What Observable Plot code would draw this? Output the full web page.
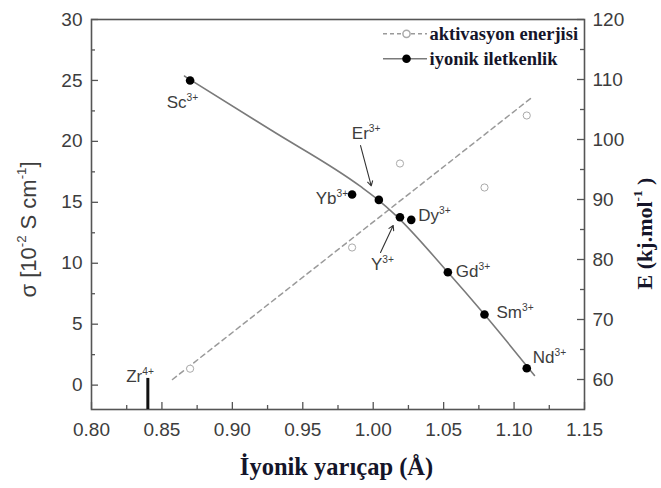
<!DOCTYPE html>
<html><head><meta charset="utf-8">
<script src="https://cdn.jsdelivr.net/npm/d3@7"></script>
<script src="https://cdn.jsdelivr.net/npm/@observablehq/plot@0.6"></script>
<style>body{margin:0;background:#fff}#chart{width:661px;height:488px;overflow:hidden}</style>
</head><body><div id="chart"></div>
<script>
// ---- data ----
const ions = ["Sc", "Yb", "Er", "Y", "Dy", "Gd", "Sm", "Nd"];
const ionCharge = ["3+", "3+", "3+", "3+", "3+", "3+", "3+", "3+"];
const ionRadius = [0.870, 0.985, 1.004, 1.019, 1.027, 1.053, 1.079, 1.109];
const conductivity = [25.0, 15.64, 15.20, 13.78, 13.56, 9.26, 5.79, 1.39];
const energyRadius = [0.870, 0.985, 1.019, 1.079, 1.109];
const activationEnergy = [61.8, 82.0, 96.0, 92.0, 104.0];
const condFitRadius = [0.866, 0.9271, 0.991, 1.0035, 1.0158, 1.053, 1.079, 1.1145];
const condFitValue = [25.36, 20.95, 16.3, 15.2, 13.95, 9.26, 5.79, 0.79];
const energyFitRadius = [0.8575, 1.1129];
const energyFitValue = [60.0, 107.05];
const zrRadius = [0.84];
const zrTop = [0.55];
const xTicks = [0.80, 0.85, 0.90, 0.95, 1.00, 1.05, 1.10, 1.15];
const xMinorTicks = [0.825, 0.875, 0.925, 0.975, 1.025, 1.075, 1.125];
const sigmaTicks = [0, 5, 10, 15, 20, 25, 30];
const sigmaMinorTicks = [2.5, 7.5, 12.5, 17.5, 22.5, 27.5];
const energyTicks = [60, 70, 80, 90, 100, 110, 120];
const energyMinorTicks = [65, 75, 85, 95, 105, 115];
const legendLabels = ["aktivasyon enerjisi", "iyonik iletkenlik"];
// annotation arrows (data units): Er, Y
const arrowFromX = [0.991, 1.0052], arrowFromY = [19.66, 10.88];
const arrowToX = [0.9986, 1.0142], arrowToY = [16.35, 13.10];

// ---- layout ----
const W = 661, H = 488, ML = 91, MR = 77, MT = 19, MB = 79;
const xDomain = [0.8, 1.15], sDomain = [-2, 30], eDomain = [55, 120];
const pxX = (W - ML - MR) / (xDomain[1] - xDomain[0]);
const pxY = (H - MT - MB) / (sDomain[1] - sDomain[0]);
const eToS = e => sDomain[0] + (e - eDomain[0]) * (sDomain[1] - sDomain[0]) / (eDomain[1] - eDomain[0]);
const sToE = s => eDomain[0] + (s - sDomain[0]) * (eDomain[1] - eDomain[0]) / (sDomain[1] - sDomain[0]);
const atX = px => xDomain[0] + (px - ML) / pxX;           // pixel -> x (layout only)
const atY = py => sDomain[1] - (py - MT) / pxY;           // pixel -> sigma (layout only)
// label offsets in pixels relative to the point
const labelLayout = {
  Sc: {anchor: "end", dx: 8, dy: 22},
  Yb: {anchor: "end", dx: -4, dy: 4},
  Er: {anchor: "start", dx: -27, dy: -66},
  Y:  {anchor: "start", dx: -29, dy: 47},
  Dy: {anchor: "start", dx: 7, dy: -4},
  Gd: {anchor: "start", dx: 8, dy: -1},
  Sm: {anchor: "start", dx: 12, dy: -2},
  Nd: {anchor: "start", dx: 6, dy: -11}
};

const points = ions.map((ion, i) => ({ion, x: ionRadius[i], s: conductivity[i]}));
const labels = ions.map((ion, i) => {
  const L = labelLayout[ion];
  return {anchor: L.anchor, text: `${ion}^{${ionCharge[i]}}`,
          x: ionRadius[i] + L.dx / pxX, s: conductivity[i] - L.dy / pxY};
});
const ePoints = energyRadius.map((x, i) => ({x, s: eToS(activationEnergy[i])}));
const condFit = condFitRadius.map((x, i) => ({x, s: condFitValue[i]}));
const energyFit = energyFitRadius.map((x, i) => ({x, s: eToS(energyFitValue[i])}));
const arrows = arrowFromX.map((x, i) => ({x1: x, y1: arrowFromY[i], x2: arrowToX[i], y2: arrowToY[i]}));

const axisColor = "#555", textColor = "#3d3d3d", serifColor = "#15152a";
const tickLen = 7, minorLen = 4;
const serif = "'Liberation Serif','Times New Roman',serif";
const sans = "'Liberation Sans',Arial,Helvetica,sans-serif";

const legendY = [atY(33.3), atY(58.3)];
const legendLine = [atX(383), atX(427)];
const legendMark = atX(406);
const legendText = atX(429);

const titles = [
  {text: "σ [10^{-2} S cm^{-1}]", x: atX(28), y: atY(229), rotate: -90, serif: false},
  {text: "E (kj.mol^{-1} )", x: atX(644), y: atY(233), rotate: -90, serif: true},
  {text: "İyonik yarıçap (Å)", x: atX(336), y: atY(467), rotate: 0, serif: true}
];

const chart = Plot.plot({
  width: W, height: H,
  marginLeft: ML, marginRight: MR, marginTop: MT, marginBottom: MB,
  x: {domain: xDomain},
  y: {domain: sDomain},
  style: {fontFamily: sans, fontSize: "19px", color: textColor, background: "white", overflow: "visible"},
  marks: [
    // ticks (inward)
    Plot.ruleY(sigmaTicks, {y: d => d, x1: () => xDomain[0], x2: () => xDomain[0] + tickLen / pxX, stroke: axisColor, strokeWidth: 1.3}),
    Plot.ruleY(sigmaMinorTicks, {y: d => d, x1: () => xDomain[0], x2: () => xDomain[0] + minorLen / pxX, stroke: axisColor, strokeWidth: 1.3}),
    Plot.ruleY(energyTicks, {y: d => eToS(d), x1: () => xDomain[1] - tickLen / pxX, x2: () => xDomain[1], stroke: axisColor, strokeWidth: 1.3}),
    Plot.ruleY(energyMinorTicks, {y: d => eToS(d), x1: () => xDomain[1] - minorLen / pxX, x2: () => xDomain[1], stroke: axisColor, strokeWidth: 1.3}),
    Plot.ruleX(xTicks, {x: d => d, y1: () => sDomain[0], y2: () => sDomain[0] + tickLen / pxY, stroke: axisColor, strokeWidth: 1.3}),
    Plot.ruleX(xMinorTicks, {x: d => d, y1: () => sDomain[0], y2: () => sDomain[0] + minorLen / pxY, stroke: axisColor, strokeWidth: 1.3}),
    Plot.frame({stroke: axisColor, strokeWidth: 1.6}),
    Plot.axisX({ticks: xTicks, tickSize: 0, tickPadding: 13, tickFormat: d3.format(".2f"), label: null, fill: textColor}),
    Plot.axisY({anchor: "left", ticks: sigmaTicks, tickSize: 0, tickPadding: 9, label: null, fill: textColor}),
    Plot.axisY({anchor: "right", ticks: energyTicks.map(eToS), tickSize: 0, tickPadding: 8,
                tickFormat: s => String(Math.round(sToE(s))), label: null, fill: textColor}),
    // fits
    Plot.line(energyFit, {x: "x", y: "s", stroke: "#9a9a9a", strokeWidth: 1.5, strokeDasharray: "5,4"}),
    Plot.line(condFit, {x: "x", y: "s", curve: "monotone-x", stroke: "#7a7a7a", strokeWidth: 1.6}),
    // points
    Plot.dot(ePoints, {x: "x", y: "s", r: 3.6, stroke: "#aaaaaa", strokeWidth: 1, fill: "white"}),
    Plot.dot(points, {x: "x", y: "s", r: 4.3, fill: "#000", stroke: null}),
    // Zr bar
    Plot.ruleX(zrRadius, {x: d => d, y1: () => sDomain[0], y2: (d, i) => zrTop[i], stroke: "#111", strokeWidth: 3}),
    Plot.text(zrRadius, {x: d => d, y: (d, i) => zrTop[i], text: () => "Zr^{4+}", textAnchor: "end", dx: 6, dy: -2, fontSize: 17, fill: textColor}),
    // arrows
    Plot.arrow(arrows, {x1: "x1", y1: "y1", x2: "x2", y2: "y2", stroke: "#333", strokeWidth: 1.1, headLength: 7}),
    // ion labels
    Plot.text(labels.filter(d => d.anchor === "start"), {x: "x", y: "s", text: "text", textAnchor: "start", fontSize: 17, fill: textColor}),
    Plot.text(labels.filter(d => d.anchor === "end"), {x: "x", y: "s", text: "text", textAnchor: "end", fontSize: 17, fill: textColor}),
    // legend
    Plot.ruleY([legendY[0]], {y: d => d, x1: () => legendLine[0], x2: () => legendLine[1], stroke: "#9a9a9a", strokeWidth: 1.5, strokeDasharray: "4,3"}),
    Plot.dot([legendY[0]], {x: () => legendMark, y: d => d, r: 3.6, stroke: "#aaaaaa", fill: "white"}),
    Plot.ruleY([legendY[1]], {y: d => d, x1: () => legendLine[0], x2: () => legendLine[1], stroke: "#7a7a7a", strokeWidth: 1.6}),
    Plot.dot([legendY[1]], {x: () => legendMark, y: d => d, r: 4.3, fill: "#000"}),
    Plot.text(legendLabels, {x: () => legendText, y: (d, i) => legendY[i], text: d => d, textAnchor: "start",
      fontFamily: serif, fontWeight: "bold", fontSize: 18.5, fill: serifColor}),
    // axis titles
    Plot.text(titles.filter(d => !d.serif), {x: "x", y: "y", text: "text", rotate: -90, fontSize: 22, fill: textColor}),
    Plot.text(titles.filter(d => d.serif && d.rotate), {x: "x", y: "y", text: "text", rotate: -90,
      fontFamily: serif, fontWeight: "bold", fontSize: 22, fill: serifColor}),
    Plot.text(titles.filter(d => d.serif && !d.rotate), {x: "x", y: "y", text: "text",
      fontFamily: serif, fontWeight: "bold", fontSize: 24.5, fill: serifColor})
  ]
});
document.getElementById("chart").appendChild(chart);

function supify(root) {
  const NS = "http://www.w3.org/2000/svg";
  root.querySelectorAll("text").forEach(t => {
    const s = t.textContent;
    if (!s.includes("^{")) return;
    const fs = parseFloat(getComputedStyle(t).fontSize) || 16;
    while (t.firstChild) t.removeChild(t.firstChild);
    const parts = s.split(/(\^\{[^}]*\})/).filter(p => p.length);
    let raised = false;
    parts.forEach(p => {
      const ts = document.createElementNS(NS, "tspan");
      if (p.startsWith("^{")) {
        ts.textContent = p.slice(2, -1);
        ts.setAttribute("font-size", (fs * 0.6).toFixed(1));
        ts.setAttribute("dy", (-fs * 0.42).toFixed(1));
        raised = true;
      } else {
        ts.textContent = p;
        if (raised) { ts.setAttribute("dy", (fs * 0.42).toFixed(1)); raised = false; }
      }
      t.appendChild(ts);
    });
  });
}
supify(chart);
</script>
</body></html>
